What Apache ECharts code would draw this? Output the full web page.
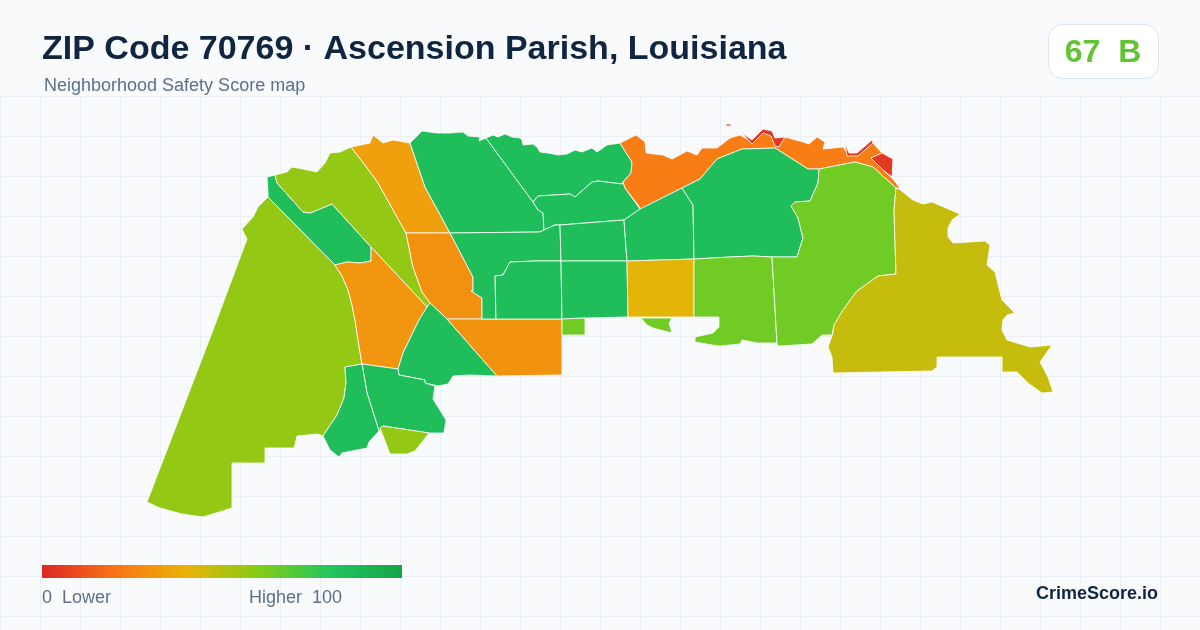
<!DOCTYPE html>
<html>
<head>
<meta charset="utf-8">
<title>ZIP Code 70769</title>
<script src="https://cdn.jsdelivr.net/npm/echarts@6/dist/echarts.min.js"></script>
<style>
html,body{margin:0;padding:0;background:#f8fafc;}
#chart{width:1200px;height:630px;}
</style>
</head>
<body>
<div id="chart"></div>
<script>
var titleText = 'ZIP Code 70769 · Ascension Parish, Louisiana';
var subText = 'Neighborhood Safety Score map';
var overallScore = '67  B';
var legendLow = '0  Lower';
var legendHigh = 'Higher  100';
var brandText = 'CrimeScore.io';

// 分数色带，0 到 100 等距
var scaleColors = ['#dc2626', '#f97316', '#eab308', '#84cc16', '#22c55e', '#16a34a'];

// 各区块名称与分数
var zoneNames = ['a', 'b', 'c', 'd', 'e', 'f', 'g', 'h', 'i', 'j', 'k', 'l', 'm', 'n', 'o', 'p', 'q', 'r', 's', 't', 'u', 'v', 'w', 'x', 'y', 'z', 'aa', 'ab'];
var zoneScores = [57, 84, 57, 34, 29, 31, 84, 30, 84, 84, 57, 84, 84, 84, 23, 5, 84, 84, 84, 84, 84, 41, 84, 64, 64, 64, 64, 47];

// 区块轮廓，每个区块一组环，[经, 纬] 取描图坐标
var zoneRings = [
	[[[268,197],[258,207],[253,217],[242,229],[247,239],[213,330],[147,502],[160,508],[182,514],[203,517],[232,508],[232,463],[265,463],[265,448],[294,448],[297,436],[317,434],[323,436],[337,415],[344,398],[346,383],[345,367],[362,364],[358,340],[355,320],[352,305],[348,290],[342,276],[335,265]]],
	[[[268,197],[268,192],[267,177],[275,175],[277,183],[303,212],[310,213],[332,204],[371,247],[371,261],[360,263],[347,262],[335,265]]],
	[[[275,175],[287,172],[292,167],[303,169],[317,172],[325,163],[330,153],[340,152],[351,147],[365,165],[378,183],[392,208],[406,233],[413,267],[422,292],[430,303],[427,307],[371,247],[332,204],[310,213],[303,212],[277,183]]],
	[[[351,147],[370,143],[373,135],[383,143],[393,140],[410,143],[425,187],[450,233],[406,233],[392,208],[378,183],[365,165]]],
	[[[406,233],[450,233],[473,277],[473,291],[471,291],[482,298],[482,319],[447,319],[430,303],[422,292],[413,267]]],
	[[[335,265],[347,262],[360,263],[371,261],[371,247],[427,307],[419,320],[403,353],[398,369],[362,364],[358,340],[355,320],[352,305],[348,290],[342,276]]],
	[[[430,303],[447,319],[497,376],[470,375],[453,376],[448,384],[438,386],[425,383],[425,380],[399,375],[398,369],[403,353],[419,320],[427,307]]],
	[[[447,319],[482,319],[496,319],[528,319],[562,319],[562,360],[562,375],[497,376]]],
	[[[362,364],[398,369],[399,375],[425,380],[425,383],[435,386],[433,399],[446,420],[444,433],[429,433],[383,426],[379,431],[367,393]]],
	[[[345,367],[362,364],[367,393],[379,431],[369,442],[367,448],[342,453],[339,457],[330,450],[323,436],[337,415],[344,398],[346,383]]],
	[[[383,426],[429,433],[415,451],[407,454],[390,454],[380,428]]],
	[[[410,143],[422,131],[437,133],[450,133],[463,132],[468,136],[480,137],[479,141],[486,138],[533,202],[538,210],[543,213],[544,230],[540,232],[450,233],[425,187]]],
	[[[486,138],[493,135],[498,137],[505,134],[512,137],[520,138],[522,140],[523,145],[533,144],[537,147],[540,152],[548,153],[558,155],[567,154],[575,150],[582,152],[592,148],[597,152],[600,150],[607,145],[620,143],[632,162],[631,173],[623,182],[622,184],[598,181],[592,182],[575,197],[570,194],[538,196],[533,202]]],
	[[[533,202],[538,196],[570,194],[575,197],[592,182],[598,181],[622,184],[623,182],[625,188],[640,209],[624,220],[560,225],[555,225],[544,230],[543,213],[538,210]]],
	[[[620,143],[636,135],[645,142],[646,153],[663,155],[672,159],[687,151],[697,155],[702,148],[717,148],[730,138],[740,135],[752,142],[763,132],[771,135],[776,146],[785,137],[803,142],[809,144],[817,137],[825,142],[823,149],[843,147],[848,154],[857,154],[872,142],[882,153],[871,158],[883,170],[892,178],[900,188],[896,188],[873,167],[855,162],[819,169],[808,169],[775,148],[742,149],[717,159],[700,179],[682,188],[641,209],[625,188],[623,182],[631,173],[632,162]]],
	[[[871,158],[882,153],[893,159],[892,177],[883,170]],[[726,124],[731,124],[731,126],[726,126]],[[741,132],[752,140],[763,129],[772,131],[775,138],[785,137],[779,147],[775,146],[771,136],[763,133],[752,144]],[[845,143],[849,153],[857,153],[872,140],[873,143],[858,156],[847,156]]],
	[[[450,233],[540,232],[544,230],[555,225],[560,225],[561,261],[535,261],[510,262],[503,275],[495,276],[496,319],[482,319],[482,298],[471,291],[473,291],[473,277]]],
	[[[510,262],[535,261],[561,261],[562,319],[496,319],[495,276],[503,275]]],
	[[[560,225],[624,220],[627,261],[561,261]]],
	[[[561,261],[627,261],[628,317],[585,318],[562,319]]],
	[[[624,220],[640,209],[682,188],[693,205],[694,259],[660,260],[627,261]]],
	[[[627,261],[660,260],[694,259],[694,317],[628,317]]],
	[[[682,188],[700,179],[717,159],[742,149],[775,148],[808,169],[819,169],[818,183],[810,201],[795,202],[791,206],[798,218],[803,238],[797,257],[772,257],[753,256],[730,257],[694,259],[693,205]]],
	[[[694,259],[730,257],[753,256],[772,257],[777,343],[757,343],[742,340],[740,344],[720,346],[712,345],[695,342],[695,337],[713,333],[719,327],[719,317],[694,317]]],
	[[[641,318],[672,318],[669,323],[672,333],[653,328],[647,325]]],
	[[[562,319],[585,318],[585,335],[562,335]]],
	[[[772,257],[797,257],[803,238],[798,218],[791,206],[795,202],[810,201],[818,183],[819,169],[855,162],[873,167],[896,188],[894,210],[896,274],[878,276],[857,291],[843,310],[834,325],[832,335],[822,335],[812,344],[778,346],[777,343]]],
	[[[899,189],[913,200],[923,204],[932,202],[960,214],[952,220],[948,228],[948,237],[953,243],[985,241],[990,245],[987,265],[995,272],[1002,300],[1015,313],[1007,315],[1003,320],[1002,330],[1007,340],[1030,347],[1052,345],[1040,362],[1048,377],[1053,392],[1042,393],[1028,383],[1017,372],[1002,372],[1002,357],[937,357],[937,367],[932,371],[880,372],[833,373],[832,357],[828,347],[833,333],[834,325],[843,310],[857,291],[878,276],[896,274],[894,210],[896,188]]]
];

function buildGeoJson() {
	var features = [];
	for (var i = 0; i < zoneNames.length; i++) {
		var polys = [];
		for (var j = 0; j < zoneRings[i].length; j++) {
			var ring = zoneRings[i][j].map(function(p) {
				return [p[0], -p[1]];// 纬度向上，翻转
			});
			ring.push(ring[0]);
			polys.push([ring]);
		}
		features.push({
			type : 'Feature',
			properties : { name : zoneNames[i] },
			geometry : { type : 'MultiPolygon', coordinates : polys }
		});
	}
	return { type : 'FeatureCollection', features : features };
}

function backgroundGrid() {
	var lines = [];
	var color = '#e9eff5';
	for (var x = 0; x <= 1200; x += 40) {
		lines.push({
			type : 'line', z : -1, silent : true,
			shape : { x1 : x + 0.5, y1 : 97, x2 : x + 0.5, y2 : 630 },
			style : { stroke : color, lineWidth : 1 }
		});
	}
	for (var y = 97; y <= 630; y += 40) {
		lines.push({
			type : 'line', z : -1, silent : true,
			shape : { x1 : 0, y1 : y - 0.5, x2 : 1200, y2 : y - 0.5 },
			style : { stroke : color, lineWidth : 1 }
		});
	}
	return lines;
}

function label(text, x, y, font, fill, align) {
	return {
		type : 'text', silent : true, x : x, y : y,
		style : {
			text : text, font : font, fill : fill,
			textAlign : align || 'left', textVerticalAlign : 'middle'
		}
	};
}

// 色带图例，渐变色取自 scaleColors
function legendBar() {
	return {
		type : 'rect', silent : true,
		shape : { x : 42, y : 565, width : 360, height : 13 },
		style : {
			fill : new echarts.graphic.LinearGradient(0, 0, 1, 0, scaleColors.map(function(c, i) {
				return { offset : i / (scaleColors.length - 1), color : c };
			}))
		}
	};
}

echarts.registerMap('zip70769', buildGeoJson());

var font = '"Liberation Sans", Arial, sans-serif';
var myChart = echarts.init(document.getElementById('chart'));
var option = {
	backgroundColor : '#f8fafc',
	animation : false,
	visualMap : {
		type : 'continuous',
		show : false,
		min : 0,
		max : 100,
		seriesIndex : 0,
		inRange : { color : scaleColors }
	},
	series : [ {
		type : 'map',
		map : 'zip70769',
		aspectScale : 1,
		boundingCoords : [ [ 0, 0 ], [ 1200, -630 ] ],
		layoutCenter : [ '50%', '50%' ],
		layoutSize : 1200,
		silent : true,
		label : { show : false },
		itemStyle : { borderColor : '#ffffff', borderWidth : 0.8 },
		data : zoneNames.map(function(n, i) {
			return { name : n, value : zoneScores[i] };
		})
	} ],
	graphic : backgroundGrid().concat([
		label(titleText, 42, 50, 'bold 34px ' + font, '#0f2540'),
		label(subText, 44, 86, '18px ' + font, '#5b7089'),
		{
			type : 'rect', silent : true,
			shape : { x : 1048.5, y : 24.5, width : 110, height : 54, r : 14 },
			style : { fill : '#ffffff', stroke : '#dde5ee', lineWidth : 1 }
		},
		label(overallScore, 1103, 53, 'bold 32px ' + font, '#62c435', 'center'),
		legendBar(),
		label(legendLow, 42, 598, '18px ' + font, '#5b7089'),
		label(legendHigh, 249, 598, '18px ' + font, '#5b7089'),
		label(brandText, 1158, 594, 'bold 18px ' + font, '#0f2540', 'right')
	])
};
myChart.setOption(option);
</script>
</body>
</html>
